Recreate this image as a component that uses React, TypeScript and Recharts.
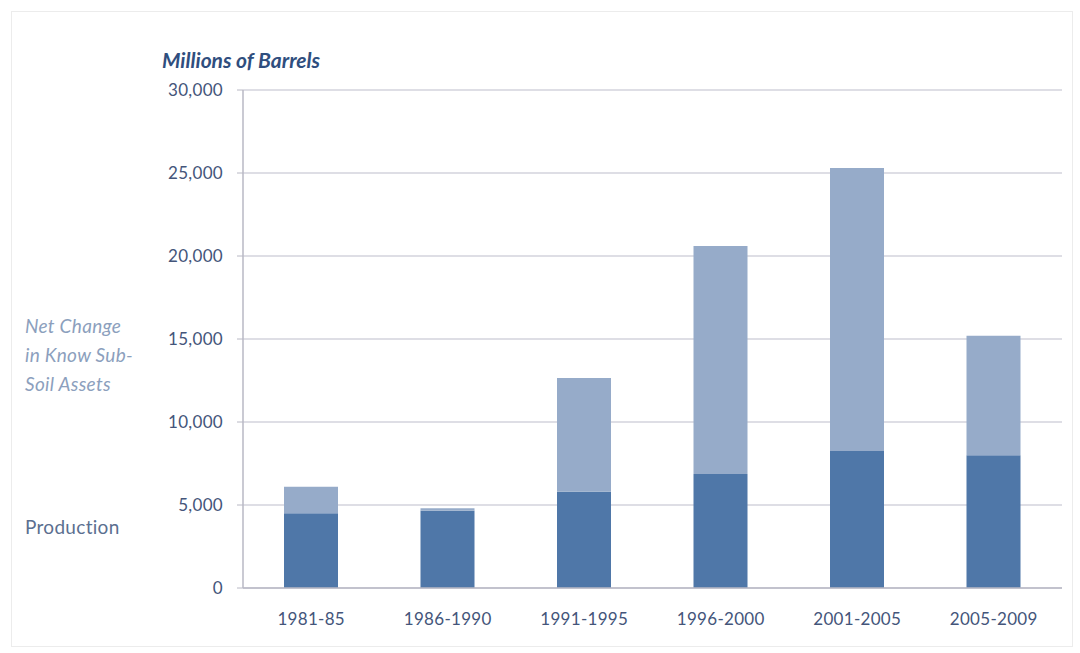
import React from "react";
import { BarChart, Bar, XAxis, YAxis, CartesianGrid } from "recharts";

const categories = ["1981-85", "1986-1990", "1991-1995", "1996-2000", "2001-2005", "2005-2009"];
const production = [4500, 4650, 5800, 6870, 8250, 8000];
const netChange = [1600, 150, 6850, 13730, 17050, 7200];
const yTicks = [0, 5000, 10000, 15000, 20000, 25000, 30000];

const data = categories.map((c, i) => ({ name: c, production: production[i], netChange: netChange[i] }));

const FONT = "Lato, 'Open Sans', sans-serif";

export default function App() {
  return (
    <div style={{ position: "absolute", left: 0, top: 0, width: 1080, height: 653, background: "#ffffff", fontFamily: FONT }}>
      <div style={{ position: "absolute", left: 11, top: 11, width: 1062, height: 636, border: "1px solid #ececec", boxSizing: "border-box" }} />
      <div style={{ position: "absolute", left: 162, top: 46, fontSize: 21, lineHeight: "28px", fontWeight: 700, fontStyle: "italic", color: "#2f4e7e", letterSpacing: 0 }}>
        Millions of Barrels
      </div>
      <div style={{ position: "absolute", left: 25, top: 311, fontSize: 19, fontStyle: "italic", color: "#8c9fbd", lineHeight: "29px", letterSpacing: 0.3 }}>
        Net Change<br />in Know Sub-<br />Soil Assets
      </div>
      <div style={{ position: "absolute", left: 25, top: 513, fontSize: 19, lineHeight: "28px", color: "#5b6f90", letterSpacing: 0.3 }}>Production</div>
      <div style={{ position: "absolute", left: 0, top: 0 }}>
        <BarChart
          width={1080}
          height={653}
          data={data}
          margin={{ top: 90, right: 18, left: 143, bottom: 30 }}
          barSize={54}
        >
          <CartesianGrid vertical={false} stroke="#d3d3dc" strokeWidth={1.5} />
          <XAxis
            dataKey="name"
            height={35}
            tickLine={false}
            tickSize={8}
            tickMargin={17}
            axisLine={{ stroke: "#b8b8c4", strokeWidth: 1.5 }}
            tick={{ fill: "#44557a", fontSize: 17, fontFamily: FONT, letterSpacing: 0.3 }}
          />
          <YAxis
            width={100}
            domain={[0, 30000]}
            ticks={yTicks}
            interval={0}
            tickSize={6}
            tickMargin={14}
            tickFormatter={(v: number) => v.toLocaleString("en-US")}
            axisLine={{ stroke: "#b8b8c4", strokeWidth: 1.5 }}
            tickLine={{ stroke: "#b8b8c4" }}
            tick={{ fill: "#44557a", fontSize: 17, fontFamily: FONT, letterSpacing: 0.3 }}
          />
          <Bar dataKey="production" stackId="a" fill="#4f77a8" isAnimationActive={false} />
          <Bar dataKey="netChange" stackId="a" fill="#96abc9" isAnimationActive={false} />
        </BarChart>
      </div>
    </div>
  );
}
